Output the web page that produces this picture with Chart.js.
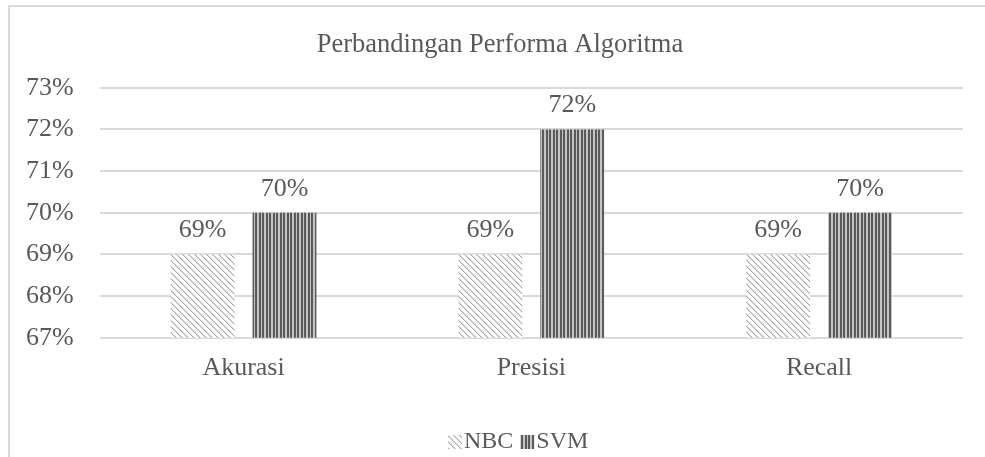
<!DOCTYPE html>
<html>
<head>
<meta charset="utf-8">
<script src="https://cdn.jsdelivr.net/npm/chart.js@4.4.0/dist/chart.umd.min.js"></script>
<style>
  html, body { margin: 0; padding: 0; background: #fff; overflow: hidden; }
  #wrap { position: relative; width: 985px; height: 457px; }
  #frame { position: absolute; left: 8px; top: 5px; width: 1000px; height: 470px;
           border-left: 2px solid #d9d9d9; border-top: 2px solid #d9d9d9; }
  canvas { position: absolute; left: 0; top: 0; }
</style>
</head>
<body>
<div id="wrap">
  <div id="frame"></div>
  <canvas id="canvas" width="985" height="457"></canvas>
</div>
<script>
// data
var categories = ["Akurasi", "Presisi", "Recall"];
var nbcValues = [0.69, 0.69, 0.69];
var svmValues = [0.70, 0.72, 0.70];
var yTicks = [0.67, 0.68, 0.69, 0.70, 0.71, 0.72, 0.73];

var textColor = '#595959';
var fontFamily = '"Liberation Serif", "Times New Roman", serif';

function pct(v){
  return Math.round(v * 100) + '%';
}

// "\" hatch for NBC
function diagPattern(){
  var c = document.createElement('canvas');
  c.width = 6; c.height = 6;
  var g = c.getContext('2d');
  g.fillStyle = '#ffffff';
  g.fillRect(0, 0, 6, 6);
  for (var i = 0; i < 6; i++) {
    g.fillStyle = '#a8a8a8';
    g.fillRect(i, i, 1, 1);
    g.fillStyle = '#dadada';
    g.fillRect((i + 1) % 6, i, 1, 1);
  }
  return g.createPattern(c, 'repeat');
}

// vertical stripes for SVM (about 3.5px period)
function stripePattern(){
  var c = document.createElement('canvas');
  c.width = 7; c.height = 4;
  var g = c.getContext('2d');
  g.fillStyle = '#c4c4c4';
  g.fillRect(0, 0, 7, 4);
  g.fillStyle = '#5a5a5a';
  g.fillRect(0, 0, 2, 4);
  g.fillRect(3, 0, 2, 4);
  return g.createPattern(c, 'repeat');
}

var valueLabels = {
  id: 'valueLabels',
  afterDatasetsDraw: function(chart){
    var ctx = chart.ctx;
    ctx.save();
    ctx.font = '26px ' + fontFamily;
    ctx.fillStyle = textColor;
    ctx.textAlign = 'center';
    ctx.textBaseline = 'bottom';
    chart.data.datasets.forEach(function(ds, i){
      chart.getDatasetMeta(i).data.forEach(function(bar, j){
        ctx.fillText(pct(ds.data[j]), bar.x, bar.y - 11);
      });
    });
    ctx.restore();
  }
};

// excel-style legend: small swatch tight against the text
var excelLegend = {
  id: 'excelLegend',
  afterDraw: function(chart){
    var ctx = chart.ctx;
    ctx.save();
    ctx.font = '24px ' + fontFamily;
    ctx.textBaseline = 'middle';
    ctx.textAlign = 'left';
    var x = 448, y = 442;
    chart.data.datasets.forEach(function(ds){
      ctx.fillStyle = ds.backgroundColor;
      ctx.fillRect(x, y - 7, 14, 14);
      x += 16;
      ctx.fillStyle = textColor;
      ctx.fillText(ds.label, x, y);
      x += ctx.measureText(ds.label).width + 7;
    });
    ctx.restore();
  }
};

var config = {
  type: 'bar',
  data: {
    labels: categories,
    datasets: [{
      label: 'NBC',
      data: nbcValues,
      backgroundColor: diagPattern(),
      borderWidth: 0
    }, {
      label: 'SVM',
      data: svmValues,
      backgroundColor: stripePattern(),
      borderWidth: 0
    }]
  },
  options: {
    responsive: false,
    animation: false,
    categoryPercentage: 0.569,
    barPercentage: 0.78,
    layout: {
      padding: { left: 0, right: -15, top: 0, bottom: 66 }
    },
    plugins: {
      title: {
        display: true,
        text: 'Perbandingan Performa Algoritma',
        color: textColor,
        font: { family: fontFamily, size: 26.5, weight: 'normal' },
        padding: { top: 29, bottom: 27 }
      },
      legend: { display: false },
      tooltip: { enabled: false }
    },
    scales: {
      x: {
        grid: { display: false },
        border: { display: false },
        ticks: {
          color: textColor,
          font: { family: fontFamily, size: 26 },
          padding: 7
        }
      },
      y: {
        min: 0.67,
        max: 0.73,
        afterBuildTicks: function(scale){
          scale.ticks = yTicks.map(function(v){ return { value: v }; });
        },
        grid: { color: '#d9d9d9', lineWidth: 2, drawTicks: false },
        border: { display: false },
        ticks: {
          color: textColor,
          font: { family: fontFamily, size: 26 },
          padding: 26,
          callback: function(v){ return pct(v); }
        }
      },
      // empty right gutter so the plot ends where the reference does
      gutter: {
        position: 'right',
        grid: { display: false, drawTicks: false },
        border: { display: false },
        ticks: { display: false },
        afterFit: function(scale){ scale.width = 37; }
      }
    }
  },
  plugins: [valueLabels, excelLegend]
};

window.myBar = new Chart(document.getElementById('canvas'), config);
</script>
</body>
</html>
